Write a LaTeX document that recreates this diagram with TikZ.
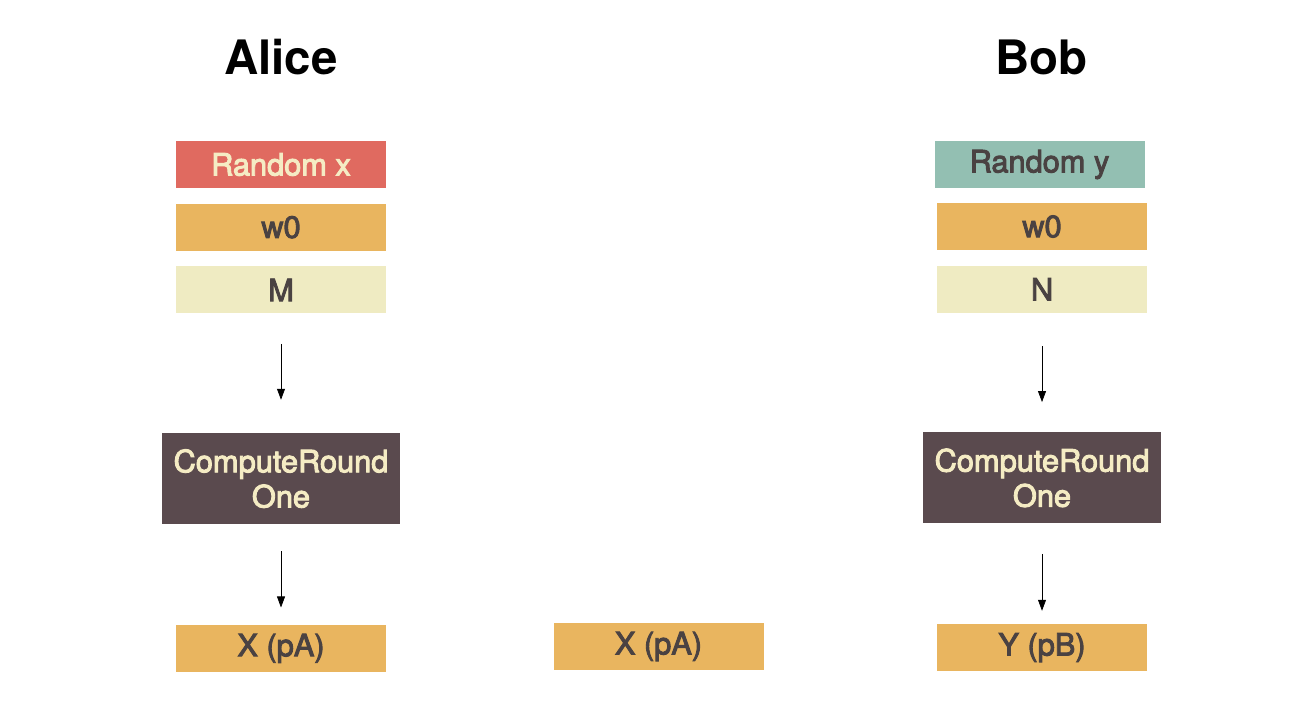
\documentclass[tikz,border=0pt]{standalone}
\usepackage{fontspec}
\setmainfont{TeX Gyre Heros}
\newfontfamily\boxfont[FakeBold=3]{TeX Gyre Heros}
\usetikzlibrary{arrows.meta,positioning}

\definecolor{alicered}{RGB}{224,106,96}
\definecolor{bobteal}{RGB}{147,191,178}
\definecolor{woorange}{RGB}{233,181,95}
\definecolor{keycream}{RGB}{239,235,194}
\definecolor{computebrown}{RGB}{90,74,78}
\definecolor{lighttext}{RGB}{245,236,196}
\definecolor{darktext}{RGB}{74,66,66}

\begin{document}
\begin{tikzpicture}[
  >={Triangle[length=2.2mm,width=1.6mm]},
  font=\boxfont\fontsize{17.5}{20}\selectfont,
  node distance=3mm,
  party/.style={font=\fontsize{27}{30}\selectfont\bfseries,text=black},
  slot/.style={inner sep=0pt,minimum width=42mm,minimum height=9.4mm,align=center},
  compute/.style={fill=computebrown,text=lighttext,inner sep=0pt,
    minimum width=47.6mm,minimum height=18.2mm,align=center},
  line/.style={->,thin,draw=black}
]
  \useasboundingbox (0,0) rectangle (25.96,-14.16);

  % Alice
  \node[party] (alice) at (5.62,-1.14) {Alice};
  \node[slot,fill=alicered,text=lighttext] (randx) at (5.62,-3.29) {Random x};
  \node[slot,fill=woorange,text=darktext,below=of randx] (wa) {w0};
  \node[slot,fill=keycream,text=darktext,below=of wa] (m) {M};
  \node[compute,below=23.8mm of m] (roundA) {ComputeRound\\One};
  \node[slot,fill=woorange,text=darktext,below=20mm of roundA] (xa) {X (pA)};

  % Bob
  \node[party] (bob) at (20.83,-1.14) {Bob};
  \node[slot,fill=bobteal,text=darktext] (randy) at (20.79,-3.29) {Random y};
  \node[slot,fill=woorange,text=darktext] (wb) at (20.84,-4.53) {w0};
  \node[slot,fill=keycream,text=darktext,below=of wb] (n) {N};
  \node[compute,below=23.8mm of n] (roundB) {ComputeRound\\One};
  \node[slot,fill=woorange,text=darktext,below=20mm of roundB] (yb) {Y (pB)};

  % sent value
  \node[slot,fill=woorange,text=darktext] (xsent) at (13.17,-12.93) {X (pA)};

  \draw[line,shorten <=6mm,shorten >=6.6mm] (m)--(roundA);
  \draw[line,shorten <=5.4mm,shorten >=3.4mm] (roundA)--(xa);
  \draw[line,shorten <=6.6mm,shorten >=6mm] (n)--(roundB);
  \draw[line,shorten <=6mm,shorten >=2.6mm] (roundB)--(yb);
\end{tikzpicture}
\end{document}
